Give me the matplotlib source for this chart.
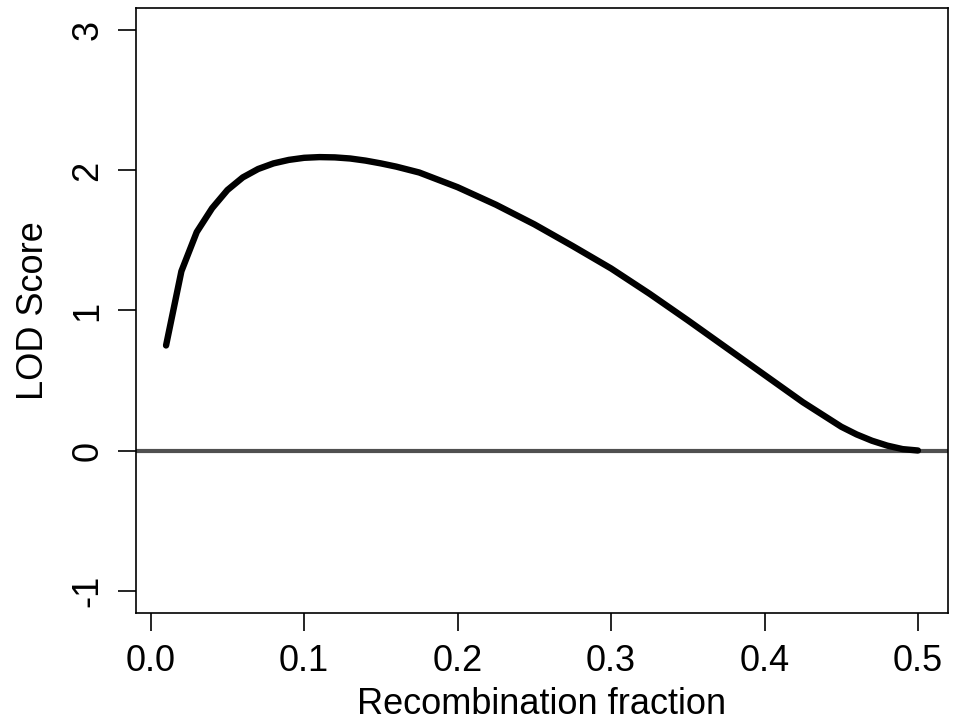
import numpy as np
import matplotlib.pyplot as plt

plt.rcParams["font.family"] = ["Liberation Sans", "DejaVu Sans"]

# recombination fraction and LOD score
theta = [0.01, 0.02, 0.03, 0.04, 0.05, 0.06, 0.07, 0.08, 0.09, 0.10,
         0.11, 0.12, 0.13, 0.14, 0.15, 0.16, 0.175, 0.20, 0.225, 0.25,
         0.275, 0.30, 0.325, 0.35, 0.375, 0.40, 0.425, 0.45, 0.46, 0.47,
         0.48, 0.49, 0.50]
lod = [0.75, 1.28, 1.56, 1.73, 1.86, 1.95, 2.01, 2.05, 2.075, 2.09,
       2.095, 2.093, 2.085, 2.07, 2.05, 2.027, 1.985, 1.88, 1.755, 1.615,
       1.46, 1.30, 1.12, 0.93, 0.735, 0.54, 0.345, 0.17, 0.115, 0.07,
       0.035, 0.01, 0.0]

xticks = [0.0, 0.1, 0.2, 0.3, 0.4, 0.5]
yticks = [-1, 0, 1, 2, 3]

fig = plt.figure(figsize=(9.61, 7.22), dpi=100)
ax = fig.add_axes([0.1415, 0.151, 0.845, 0.838])

ax.axhline(0, color="#505050", lw=3, zorder=1)
ax.plot(theta, lod, color="black", lw=4.6, solid_capstyle="round",
        solid_joinstyle="round", zorder=2)

# R-style 4% padding around the data range
ax.set_xlim(0.01 - 0.04 * 0.49, 0.5 + 0.04 * 0.49)
ax.set_ylim(-1 - 0.16, 3 + 0.16)

ax.set_xticks(xticks)
ax.set_xticklabels([f"{v:.1f}" for v in xticks])
ax.set_yticks(yticks)
ax.set_yticklabels([str(v) for v in yticks], rotation=90, va="center")

ax.tick_params(axis="both", direction="out", length=13, width=1.2,
               labelsize=26, pad=9)
for s in ax.spines.values():
    s.set_linewidth(1.2)

ax.set_xlabel("Recombination fraction", fontsize=26, labelpad=6)
ax.set_ylabel("LOD Score", fontsize=26, labelpad=14)

fig.savefig("out.png", dpi=100)
